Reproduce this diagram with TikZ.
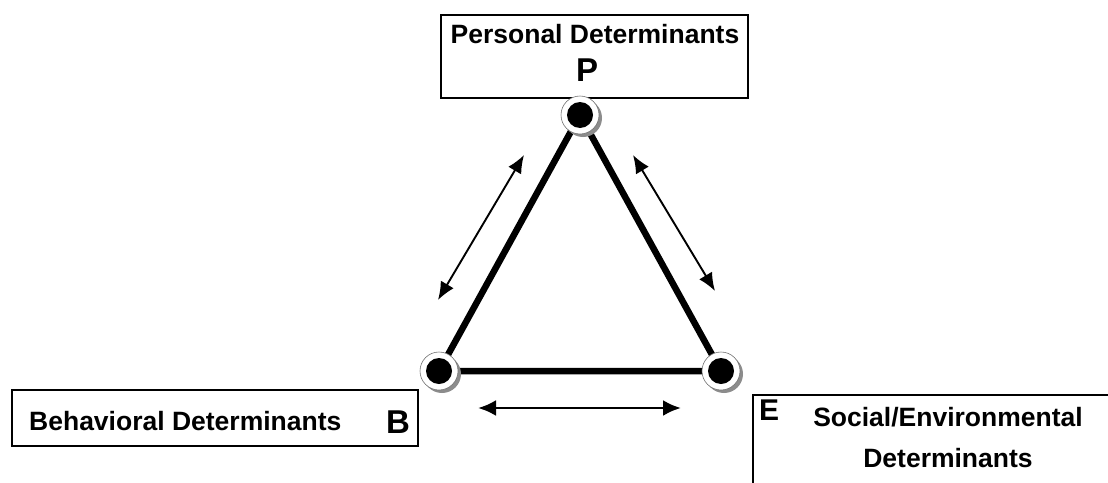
\documentclass[tikz,border=0pt]{standalone}
\usepackage{fontspec}
\setmainfont{Liberation Sans}
\usetikzlibrary{arrows.meta,calc}
\tikzset{
  boxstyle/.style={draw=black, line width=2.4pt, fill=white, inner sep=0pt},
  lbl/.style={font=\bfseries\fontsize{26.5}{30}\selectfont, inner sep=0pt, anchor=base},
  biglbl/.style={font=\bfseries\fontsize{33}{36}\selectfont, inner sep=0pt, anchor=base},
  elbl/.style={font=\bfseries\fontsize{30}{34}\selectfont, inner sep=0pt, anchor=base},
  edge/.style={line width=6.5pt},
  rel/.style={line width=1.9pt, {Latex[length=18pt,width=15pt]}-{Latex[length=18pt,width=15pt]}},
  relb/.style={line width=2.8pt, {Latex[length=18pt,width=16pt]}-{Latex[length=18pt,width=16pt]}},
}
\newcommand{\vertexdot}[1]{%
  \fill[black!45] ($(#1)+(3,3)$) circle (19);
  \draw[fill=white, draw=black!55, line width=0.6pt] (#1) circle (19);
  \fill[black] (#1) circle (13);
}
\begin{document}
\begin{tikzpicture}[x=1pt,y=-1pt]
\useasboundingbox (0,0) rectangle (1108,482);
% boxes
\node[boxstyle, minimum width=307pt, minimum height=83pt] (Pbox) at (594.5,56.5) {};
\node[boxstyle, minimum width=406pt, minimum height=56pt] (Bbox) at (215,418) {};
\node[boxstyle, minimum width=380pt, minimum height=110pt] (Ebox) at (943,450) {};
% texts
\node[lbl] (Ptext) at (595,43) {Personal Determinants};
\node[biglbl] (Pletter) at (587,81) {P};
\node[lbl, anchor=base west] (Btext) at (29,430) {Behavioral Determinants};
\node[biglbl] (Bletter) at (398,433) {B};
\node[elbl] (Eletter) at (769,420) {E};
\node[lbl] (Etext1) at (948,426) {Social/Environmental};
\node[lbl] (Etext2) at (948,467) {Determinants};
% vertices
\coordinate (P) at (580,115);
\coordinate (B) at (439,371);
\coordinate (E) at (721,371);
\draw[edge] (P) -- (B) -- (E) -- cycle;
\vertexdot{P}
\vertexdot{B}
\vertexdot{E}
% relation arrows
\coordinate (a1) at (524,155);
\coordinate (a2) at (438,300);
\coordinate (b1) at (633,155);
\coordinate (b2) at (715,291);
\coordinate (c1) at (478,408);
\coordinate (c2) at (681,408);
\draw[rel] (a1) -- (a2);
\draw[rel] (b1) -- (b2);
\draw[relb] (c1) -- (c2);
\end{tikzpicture}
\end{document}
